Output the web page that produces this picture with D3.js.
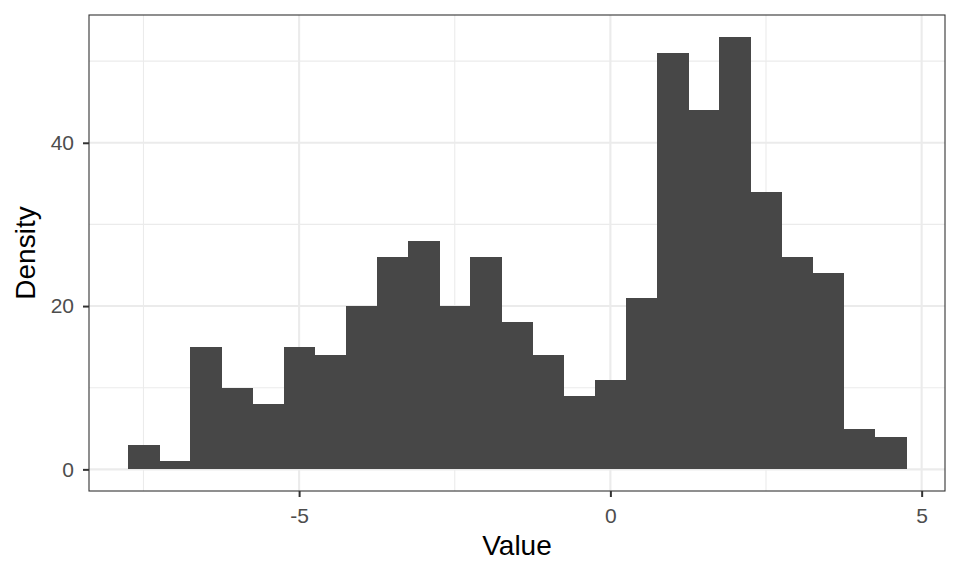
<!DOCTYPE html>
<html><head><meta charset="utf-8">
<script src="https://cdn.jsdelivr.net/npm/d3@7"></script>
<style>body{margin:0;background:#fff}text{font-family:"Liberation Sans",Arial,sans-serif}</style>
</head><body><svg id="c" width="960" height="576"></svg>
<script>
const binStart = -7.75;
const binWidth = 0.5;
const counts = [3,1,15,10,8,15,14,20,26,28,20,26,18,14,9,11,21,51,44,53,34,26,24,5,4];
const xTicks = [-5,0,5];
const xMinor = [-7.5,-2.5,2.5];
const yTicks = [0,20,40];
const yMinor = [10,30,50];
const xLabel = "Value", yLabel = "Density";

const bins = counts.map((c,i)=>({x0: binStart+i*binWidth, x1: binStart+(i+1)*binWidth, n: c}));
const L=89,R=945,T=15,B=491;
const xmin = binStart, xmax = binStart+counts.length*binWidth;
const xpad=(xmax-xmin)*0.05, ymax=d3.max(counts), ypad=ymax*0.05;
const x=d3.scaleLinear().domain([xmin-xpad,xmax+xpad]).range([L,R]);
const y=d3.scaleLinear().domain([-ypad,ymax+ypad]).range([B,T]);
const svg=d3.select("#c");
const g=svg.append("g");
g.append("rect").attr("x",L).attr("y",T).attr("width",R-L).attr("height",B-T).attr("fill","#fff");
g.selectAll(".xm").data(xMinor).join("line").attr("x1",d=>x(d)).attr("x2",d=>x(d)).attr("y1",T).attr("y2",B).attr("stroke","#ebebeb").attr("stroke-width",1.1);
g.selectAll(".ym").data(yMinor).join("line").attr("y1",d=>y(d)).attr("y2",d=>y(d)).attr("x1",L).attr("x2",R).attr("stroke","#ebebeb").attr("stroke-width",1.1);
g.selectAll(".xM").data(xTicks).join("line").attr("x1",d=>x(d)).attr("x2",d=>x(d)).attr("y1",T).attr("y2",B).attr("stroke","#ebebeb").attr("stroke-width",2.1);
g.selectAll(".yM").data(yTicks).join("line").attr("y1",d=>y(d)).attr("y2",d=>y(d)).attr("x1",L).attr("x2",R).attr("stroke","#ebebeb").attr("stroke-width",2.1);
g.selectAll(".bar").data(bins).join("rect")
 .attr("x",d=>x(d.x0)).attr("width",d=>x(d.x1)-x(d.x0)+0.5)
 .attr("y",d=>y(d.n)).attr("height",d=>y(0)-y(d.n)).attr("fill","#474747").attr("shape-rendering","crispEdges");
g.append("rect").attr("x",L).attr("y",T).attr("width",R-L).attr("height",B-T).attr("fill","none").attr("stroke","#333").attr("stroke-width",1.1);

const xa=d3.axisBottom(x).tickValues(xTicks).tickSize(6).tickPadding(11).tickFormat(d3.format("d"));
const ya=d3.axisLeft(y).tickValues(yTicks).tickSize(6).tickPadding(9);
const gx=svg.append("g").attr("transform",`translate(0,${B})`).call(xa);
const gy=svg.append("g").attr("transform",`translate(${L},0)`).call(ya);
[gx,gy].forEach(a=>{a.select(".domain").remove();a.selectAll("line").attr("stroke","#333").attr("stroke-width",2);
 a.selectAll("text").attr("fill","#4d4d4d").style("font-size","21px").style("font-family","'Liberation Sans',Arial,sans-serif");});
gx.selectAll("text").text(d=>d<0?"-"+Math.abs(d):d);
svg.append("text").attr("x",(L+R)/2).attr("y",555).attr("text-anchor","middle").style("font-size","28px").attr("fill","#000").text(xLabel);
svg.append("text").attr("transform",`translate(35,${(T+B)/2}) rotate(-90)`).attr("text-anchor","middle").style("font-size","28px").attr("fill","#000").text(yLabel);
</script></body></html>
